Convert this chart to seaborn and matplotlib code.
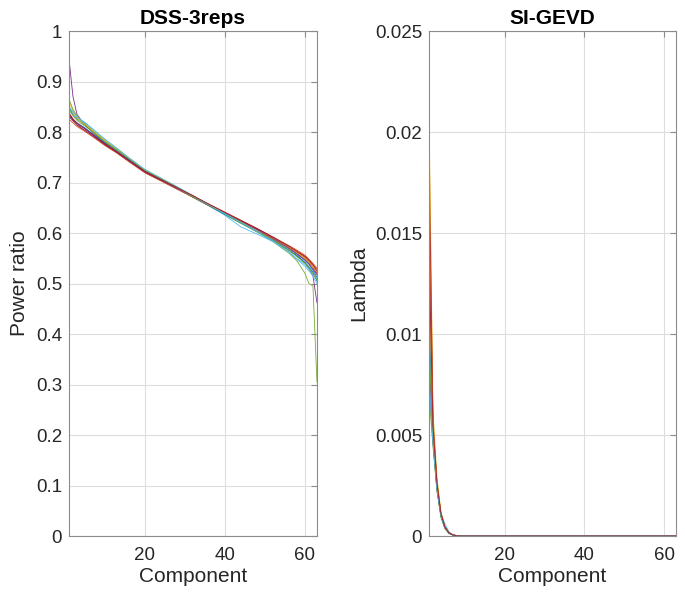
import numpy as np
import pandas as pd
import matplotlib
matplotlib.use("Agg")
import matplotlib.pyplot as plt
import seaborn as sns

# ---------------- data ----------------
dss_components = [1, 2, 3, 4, 5, 7, 10, 13, 16, 20, 24, 28, 32, 36, 40, 44, 48, 52, 56, 58, 60, 61, 62, 63]
dss_lines = [
    [0.848, 0.835, 0.826, 0.820, 0.813, 0.800, 0.781, 0.764, 0.747, 0.724, 0.707, 0.690, 0.673, 0.656, 0.639, 0.623, 0.606, 0.588, 0.569, 0.558, 0.546, 0.538, 0.526, 0.512],
    [0.832, 0.822, 0.814, 0.808, 0.803, 0.792, 0.774, 0.759, 0.742, 0.720, 0.704, 0.688, 0.672, 0.657, 0.641, 0.625, 0.609, 0.592, 0.575, 0.566, 0.556, 0.548, 0.540, 0.530],
    [0.860, 0.842, 0.830, 0.822, 0.816, 0.802, 0.782, 0.765, 0.746, 0.723, 0.706, 0.690, 0.672, 0.655, 0.638, 0.621, 0.605, 0.588, 0.570, 0.560, 0.549, 0.541, 0.532, 0.522],
    [0.945, 0.870, 0.835, 0.824, 0.815, 0.799, 0.777, 0.760, 0.743, 0.720, 0.704, 0.687, 0.671, 0.654, 0.637, 0.621, 0.604, 0.586, 0.566, 0.555, 0.541, 0.530, 0.515, 0.462],
    [0.865, 0.845, 0.832, 0.823, 0.816, 0.801, 0.780, 0.763, 0.746, 0.722, 0.705, 0.688, 0.671, 0.654, 0.636, 0.619, 0.602, 0.583, 0.560, 0.545, 0.520, 0.500, 0.495, 0.305],
    [0.842, 0.834, 0.828, 0.823, 0.818, 0.806, 0.785, 0.766, 0.748, 0.725, 0.708, 0.690, 0.672, 0.654, 0.635, 0.612, 0.598, 0.583, 0.563, 0.549, 0.538, 0.528, 0.520, 0.508],
    [0.838, 0.826, 0.818, 0.812, 0.807, 0.795, 0.777, 0.761, 0.744, 0.721, 0.705, 0.689, 0.673, 0.656, 0.640, 0.624, 0.608, 0.590, 0.572, 0.562, 0.551, 0.543, 0.533, 0.520],
    [0.830, 0.824, 0.818, 0.813, 0.808, 0.796, 0.779, 0.763, 0.746, 0.723, 0.706, 0.689, 0.671, 0.654, 0.637, 0.620, 0.603, 0.585, 0.566, 0.555, 0.542, 0.533, 0.522, 0.505],
    [0.826, 0.818, 0.811, 0.806, 0.801, 0.790, 0.773, 0.758, 0.741, 0.719, 0.703, 0.687, 0.671, 0.655, 0.639, 0.623, 0.607, 0.590, 0.572, 0.563, 0.553, 0.546, 0.538, 0.528],
    [0.852, 0.838, 0.827, 0.820, 0.815, 0.803, 0.784, 0.767, 0.749, 0.725, 0.708, 0.691, 0.674, 0.657, 0.640, 0.623, 0.606, 0.589, 0.571, 0.561, 0.550, 0.542, 0.533, 0.523],
    [0.836, 0.823, 0.814, 0.808, 0.803, 0.792, 0.775, 0.760, 0.743, 0.721, 0.705, 0.689, 0.673, 0.656, 0.639, 0.623, 0.607, 0.589, 0.570, 0.559, 0.547, 0.539, 0.529, 0.517],
    [0.845, 0.832, 0.823, 0.817, 0.812, 0.800, 0.781, 0.764, 0.747, 0.724, 0.707, 0.690, 0.672, 0.655, 0.638, 0.621, 0.604, 0.586, 0.566, 0.553, 0.540, 0.531, 0.520, 0.507],
    [0.850, 0.840, 0.830, 0.824, 0.819, 0.805, 0.786, 0.768, 0.749, 0.726, 0.709, 0.692, 0.674, 0.656, 0.638, 0.621, 0.603, 0.584, 0.562, 0.548, 0.534, 0.525, 0.515, 0.500],
    [0.834, 0.825, 0.817, 0.811, 0.806, 0.794, 0.776, 0.760, 0.744, 0.722, 0.706, 0.690, 0.674, 0.657, 0.641, 0.625, 0.609, 0.592, 0.574, 0.564, 0.554, 0.546, 0.537, 0.525],
]

gevd_components = [1, 2, 3, 4, 5, 6, 7, 8, 9, 10, 63]
gevd_lines = [
    [0.0092, 0.0050, 0.0024, 0.0010, 0.00040, 0.00015, 0.00005, 0.00001, 0.0, 0.0, 0.0],
    [0.0200, 0.0058, 0.0027, 0.0011, 0.00045, 0.00017, 0.00006, 0.00002, 0.0, 0.0, 0.0],
    [0.0210, 0.0062, 0.0029, 0.0012, 0.00050, 0.00020, 0.00007, 0.00002, 0.0, 0.0, 0.0],
    [0.0075, 0.0046, 0.0023, 0.0010, 0.00040, 0.00014, 0.00005, 0.00001, 0.0, 0.0, 0.0],
    [0.0070, 0.0044, 0.0022, 0.0009, 0.00035, 0.00012, 0.00004, 0.00001, 0.0, 0.0, 0.0],
    [0.0135, 0.0052, 0.0025, 0.0011, 0.00060, 0.00020, 0.00006, 0.00002, 0.0, 0.0, 0.0],
    [0.0185, 0.0056, 0.0026, 0.0011, 0.00045, 0.00016, 0.00005, 0.00001, 0.0, 0.0, 0.0],
    [0.0110, 0.0049, 0.0024, 0.0010, 0.00040, 0.00015, 0.00005, 0.00001, 0.0, 0.0, 0.0],
    [0.0165, 0.0055, 0.0026, 0.0011, 0.00042, 0.00016, 0.00005, 0.00001, 0.0, 0.0, 0.0],
    [0.0130, 0.0053, 0.0026, 0.0011, 0.00040, 0.00015, 0.00005, 0.00001, 0.0, 0.0, 0.0],
    [0.0085, 0.0047, 0.0023, 0.0010, 0.00040, 0.00014, 0.00005, 0.00001, 0.0, 0.0, 0.0],
    [0.0095, 0.0048, 0.0024, 0.0010, 0.00040, 0.00015, 0.00005, 0.00001, 0.0, 0.0, 0.0],
    [0.0078, 0.0046, 0.0023, 0.0010, 0.00040, 0.00014, 0.00005, 0.00001, 0.0, 0.0, 0.0],
    [0.0140, 0.0054, 0.0026, 0.0011, 0.00043, 0.00016, 0.00005, 0.00001, 0.0, 0.0, 0.0],
]

matlab_colors = ["#0072BD", "#D95319", "#EDB120", "#7E2F8E", "#77AC30", "#4DBEEE", "#A2142F"]

dss_ticks = [0, 0.1, 0.2, 0.3, 0.4, 0.5, 0.6, 0.7, 0.8, 0.9, 1]
dss_ticklabels = ["0", "0.1", "0.2", "0.3", "0.4", "0.5", "0.6", "0.7", "0.8", "0.9", "1"]
gevd_ticks = [0, 0.005, 0.01, 0.015, 0.02, 0.025]
gevd_ticklabels = ["0", "0.005", "0.01", "0.015", "0.02", "0.025"]
x_ticks = [20, 40, 60]

# ---------------- style ----------------
sns.set_style("white")
plt.rcParams["font.family"] = ["Liberation Sans", "DejaVu Sans"]

def long_form(comps, lines):
    rows = []
    for i, vals in enumerate(lines):
        for c, v in zip(comps, vals):
            rows.append({"Component": c, "value": v, "line": i})
    return pd.DataFrame(rows)

df_dss = long_form(dss_components, dss_lines)
df_gevd = long_form(gevd_components, gevd_lines)
n = len(dss_lines)
palette = [matlab_colors[i % len(matlab_colors)] for i in range(n)]

fig = plt.figure(figsize=(6.85, 5.93), dpi=100)
ax1 = fig.add_axes([0.1007, 0.0961, 0.3620, 0.8516])
ax2 = fig.add_axes([0.6263, 0.0961, 0.3606, 0.8516])

edge = "#8c8c8c"
txt = "#262626"

for ax, df, title, ylabel, yt, ytl, ylim in [
    (ax1, df_dss, "DSS-3reps", "Power ratio", dss_ticks, dss_ticklabels, (0, 1)),
    (ax2, df_gevd, "SI-GEVD", "Lambda", gevd_ticks, gevd_ticklabels, (0, 0.025)),
]:
    sns.lineplot(data=df, x="Component", y="value", hue="line", palette=palette,
                 linewidth=0.6, legend=False, ax=ax, estimator=None, sort=False)
    ax.set_xlim(1, 63)
    ax.set_ylim(*ylim)
    ax.set_xticks(x_ticks)
    ax.set_xticklabels([str(t) for t in x_ticks])
    ax.set_yticks(yt)
    ax.set_yticklabels(ytl)
    ax.grid(True, color="#dedede", linewidth=0.8)
    ax.set_axisbelow(True)
    for s in ax.spines.values():
        s.set_color(edge)
        s.set_linewidth(0.8)
        s.set_visible(True)
    ax.tick_params(direction="in", length=4, width=0.8, color=edge,
                   top=True, right=True, labelsize=13.5, labelcolor=txt)
    ax.tick_params(axis="x", pad=8)
    ax.tick_params(axis="y", pad=5)
    ax.set_title(title, fontsize=15, fontweight="bold", color="black", pad=5)
    ax.set_xlabel("Component", fontsize=15, color=txt, labelpad=2)
    ax.set_ylabel(ylabel, fontsize=15, color=txt, labelpad=5)

fig.savefig("out.png", dpi=100)
